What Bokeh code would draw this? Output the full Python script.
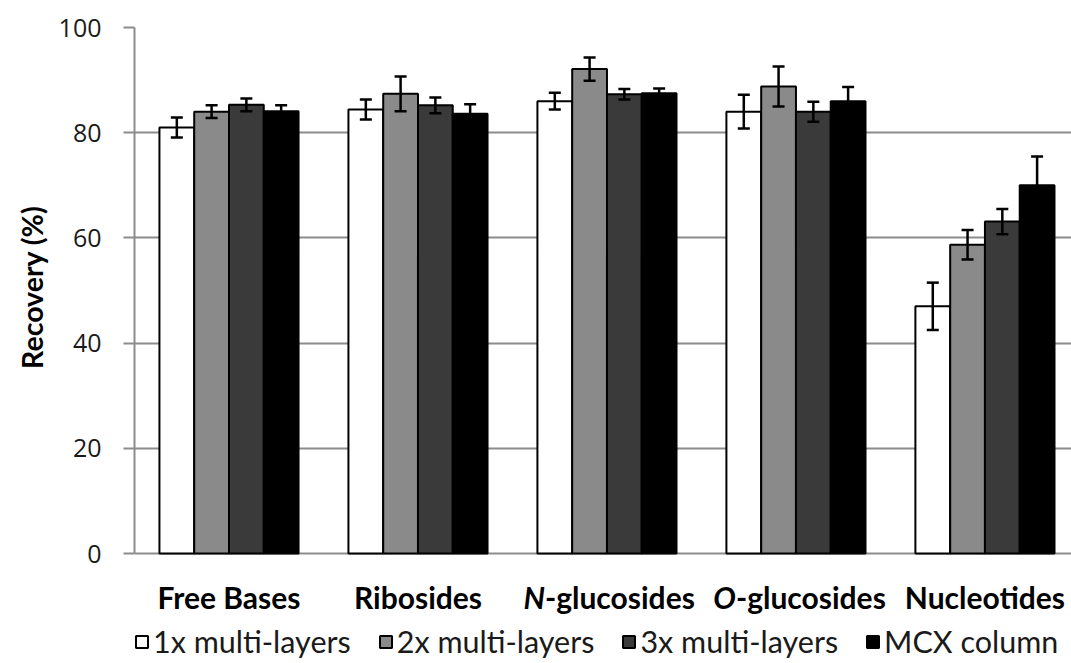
from bokeh.plotting import figure
from bokeh.models import (Range1d, FixedTicker, Label, Legend, LegendItem,
                          ColumnDataSource, Whisker, TeeHead, Title)
from bokeh.embed import file_html
from bokeh.resources import INLINE

# Categories of cytokinin forms and SPE clean-up variants
categories = ["Free Bases", "Ribosides", "N-glucosides", "O-glucosides", "Nucleotides"]
series = ["1x multi-layers", "2x multi-layers", "3x multi-layers", "MCX column"]

# Mean recovery (%) per category
rec_1x = [81.0, 84.4, 86.0, 84.0, 47.0]
rec_2x = [84.0, 87.4, 92.1, 88.8, 58.7]
rec_3x = [85.3, 85.2, 87.3, 84.0, 63.1]
rec_mcx = [84.1, 83.6, 87.5, 86.0, 70.0]

# Standard deviations
err_1x = [1.9, 1.9, 1.6, 3.2, 4.5]
err_2x = [1.2, 3.3, 2.2, 3.8, 2.8]
err_3x = [1.2, 1.5, 1.0, 1.9, 2.4]
err_mcx = [1.1, 1.8, 0.9, 2.7, 5.5]

y_ticks = [0, 20, 40, 60, 80, 100]

values = [rec_1x, rec_2x, rec_3x, rec_mcx]
errors = [err_1x, err_2x, err_3x, err_mcx]
fills = ["#ffffff", "#8a8a8a", "#3a3a3a", "#000000"]

BAR_W = 0.184
GRID = "#8c8c8c"

# The frame reaches the bottom of the canvas so that the category names
# and the legend can be drawn inside it, below the zero line.
p = figure(width=1071, height=663, output_backend="svg", toolbar_location=None,
           x_range=Range1d(0, 4.958), y_range=Range1d(-20.9, 100),
           x_axis_location=None,
           min_border_left=134, min_border_right=0, min_border_top=27,
           min_border_bottom=0)
p.outline_line_color = None
p.background_fill_color = "white"
p.border_fill_color = "white"

# y axis
p.yaxis.bounds = (0, 100)
p.yaxis.ticker = FixedTicker(ticks=y_ticks)
p.yaxis.axis_line_color = GRID
p.yaxis.axis_line_width = 2
p.yaxis.major_tick_line_color = GRID
p.yaxis.major_tick_line_width = 2
p.yaxis.major_tick_out = 11
p.yaxis.major_tick_in = 0
p.yaxis.minor_tick_line_color = None
p.yaxis.major_label_text_font = "Open Sans"
p.yaxis.major_label_text_font_size = "25px"
p.yaxis.major_label_text_color = "#1a1a1a"
p.yaxis.major_label_standoff = 22

# y axis title, placed along the 0-100 span rather than the whole frame
p.add_layout(Title(text="Recovery (%)", align="right", offset=178,
                   text_font="Lato", text_font_style="bold",
                   text_font_size="28.5px", text_color="#000000",
                   standoff=13), "left")

p.xgrid.grid_line_color = None
p.ygrid.ticker = FixedTicker(ticks=y_ticks)
p.ygrid.grid_line_color = GRID
p.ygrid.grid_line_width = 2

renderers = []
for j, (name, vals, errs, fill) in enumerate(zip(series, values, errors, fills)):
    xs = [i + 0.5 + (j - 1.5) * BAR_W for i in range(len(categories))]
    src = ColumnDataSource(dict(
        x=xs, top=vals,
        lower=[v - e for v, e in zip(vals, errs)],
        upper=[v + e for v, e in zip(vals, errs)],
    ))
    r = p.vbar(x="x", top="top", bottom=0, width=BAR_W, source=src,
               fill_color=fill, line_color="black", line_width=2)
    renderers.append((name, r))
    w = Whisker(base="x", lower="lower", upper="upper", source=src,
                level="overlay", line_color="black", line_width=2.5,
                upper_head=TeeHead(size=12, line_width=2.5, line_color="black"),
                lower_head=TeeHead(size=12, line_width=2.5, line_color="black"))
    p.add_layout(w)

# category labels (italic locant prefix for glucosides)
LBL_SIZE = "30px"
LBL_Y = 67
for i, cat in enumerate(categories):
    if cat[1] == "-":
        prefix, rest = cat[0], cat[1:]
        w_prefix = 22 if prefix == "N" else 24
        w_total = 168
        split = -w_total / 2 + w_prefix
        p.add_layout(Label(x=i + 0.5, y=LBL_Y, y_units="screen", x_offset=split,
                           text=prefix, text_font="Lato", text_font_size=LBL_SIZE,
                           text_font_style="bold italic", text_align="right",
                           text_baseline="middle", text_color="black"))
        p.add_layout(Label(x=i + 0.5, y=LBL_Y, y_units="screen", x_offset=split,
                           text=rest, text_font="Lato", text_font_size=LBL_SIZE,
                           text_font_style="bold", text_align="left",
                           text_baseline="middle", text_color="black"))
    else:
        p.add_layout(Label(x=i + 0.5, y=LBL_Y, y_units="screen", text=cat,
                           text_font="Lato", text_font_size=LBL_SIZE,
                           text_font_style="bold", text_align="center",
                           text_baseline="middle", text_color="black"))

legend = Legend(items=[LegendItem(label=n, renderers=[r]) for n, r in renderers],
                orientation="horizontal", location=(0, 4),
                label_text_font="Lato", label_text_font_size="30.5px",
                label_text_color="#1a1a1a",
                glyph_width=15, glyph_height=15, label_standoff=4, spacing=27,
                padding=0, margin=0, border_line_color=None,
                background_fill_alpha=0)
p.add_layout(legend)

open("out.html", "w").write(file_html(p, INLINE))
